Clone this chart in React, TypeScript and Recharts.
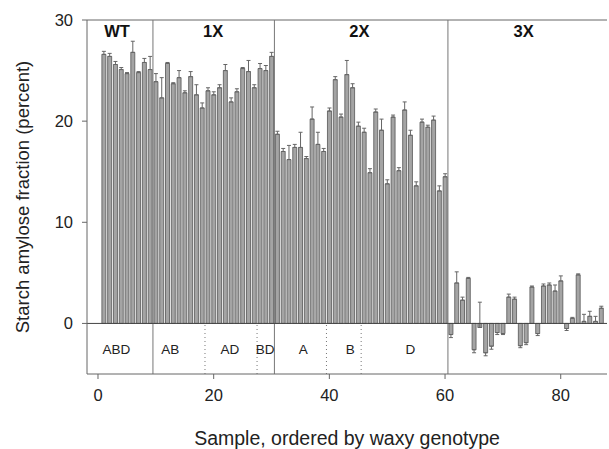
import React from 'react';
import { BarChart, Bar, XAxis, YAxis, ErrorBar, ReferenceLine, ReferenceDot } from 'recharts';

// Amylose fraction (%) per sample, grouped by waxy genotype
const wtValues = [26.6, 26.4, 25.6, 25.1, 24.7, 26.8, 24.8, 25.8, 25.1];
const wtErr = [0.3, 0.3, 0.3, 0.2, 0.1, 1.1, 0.1, 0.4, 1.3];

const x1Values = [23.9, 22.3, 25.7, 23.7, 24.3, 22.8, 24.4, 22.6, 21.3, 23.0, 22.6, 23.3, 25.0, 21.9, 22.9, 25.2, 24.9, 23.3, 25.2, 25.0, 26.4];
const x1Err = [0.8, 2.0, 0.1, 0.1, 0.7, 0.2, 0.5, 1.0, 0.5, 0.3, 0.3, 0.3, 0.6, 0.4, 0.3, 0.1, 1.1, 0.3, 0.5, 0.5, 0.4];

const x2Values = [18.7, 17.0, 16.2, 17.4, 17.4, 16.3, 20.2, 17.7, 17.0, 21.0, 24.1, 20.4, 24.6, 23.3, 19.5, 18.9, 14.9, 20.9, 19.1, 13.8, 20.4, 15.1, 21.1, 18.6, 13.6, 19.9, 19.4, 20.1, 13.1, 14.5];
const x2Err = [0.3, 0.3, 1.4, 0.3, 1.5, 0.2, 1.2, 1.2, 0.3, 0.3, 0.3, 0.3, 1.4, 0.4, 0.4, 0.4, 0.4, 0.3, 1.1, 0.4, 0.2, 0.3, 0.8, 0.5, 0.4, 0.3, 0.2, 0.4, 0.5, 0.3];

const x3Values = [-1.1, 4.0, 2.3, 4.45, -2.6, -0.4, -2.9, -2.25, -0.9, -1.0, 2.6, 2.4, -2.2, -1.9, 3.6, -1.0, 3.7, 3.8, 3.2, 4.2, -0.5, 0.5, 4.8, 0.2, 0.7, 0.2, 1.5];
const x3ErrHigh = [0, 1.1, 0.3, 0.1, 0, 2.5, 0, 0, 0, 0, 0.3, 0.2, 0, 0, 0.1, 0, 0.2, 0.2, 0.6, 0.5, 0, 0.1, 0.1, 0.7, 0.5, 0.5, 0.2];
const x3ErrLow = [0.3, 0, 0, 0, 0.3, 0, 0.3, 0.3, 0.2, 0.1, 0, 0, 0.2, 0.2, 0, 0.2, 0, 0, 0, 0, 0.2, 0, 0, 0, 0, 0, 0];

const groupLabels = ['WT', '1X', '2X', '3X'];
const groupLabelX = [3.3, 19.9, 45.2, 73.6];
const groupDividers = [9.5, 30.5, 60.5];

const genomeLabels = ['ABD', 'AB', 'AD', 'BD', 'A', 'B', 'D'];
const genomeLabelX = [3.2, 12.5, 22.8, 28.9, 35.5, 43.6, 54];
const genomeDividers = [18.5, 27.5, 39.5, 45.5];

const xTicks = [0, 20, 40, 60, 80];
const yTicks = [0, 10, 20, 30];

const values = [...wtValues, ...x1Values, ...x2Values, ...x3Values];
const errHigh = [...wtErr, ...x1Err, ...x2Err, ...x3ErrHigh];
const errLow = [
  ...wtValues.map(() => 0),
  ...x1Values.map(() => 0),
  ...x2Values.map(() => 0),
  ...x3ErrLow,
];

const data = values.map((v, i) => ({
  sample: i + 1,
  amylose: v,
  err: [errLow[i], errHigh[i]],
}));

const FONT = '"Liberation Sans", Arial, Helvetica, sans-serif';
const AXIS = '#666';
const TEXT = '#222';

export default function App() {
  return (
    <div
      style={{
        position: 'absolute',
        left: 0,
        top: 0,
        width: 609,
        height: 449,
        overflow: 'hidden',
        background: '#fff',
        fontFamily: FONT,
      }}
    >
      <BarChart
        width={609}
        height={449}
        data={data}
        margin={{ top: 20, right: 2, bottom: 0, left: 0 }}
      >
        <XAxis
          dataKey="sample"
          type="number"
          domain={[-1.9, 88]}
          ticks={xTicks}
          interval={0}
          height={75}
          tickSize={5}
          tickMargin={10}
          stroke={AXIS}
          tick={{ fill: TEXT, fontSize: 16.5 }}
          allowDataOverflow
          label={{
            value: 'Sample, ordered by waxy genotype',
            position: 'insideBottom',
            offset: 4,
            fill: TEXT,
            fontSize: 19.5,
          }}
        />
        <YAxis
          type="number"
          domain={[-5, 30]}
          ticks={yTicks}
          interval={0}
          width={87}
          tickSize={5}
          tickMargin={9}
          stroke={AXIS}
          tick={{ fill: TEXT, fontSize: 16.5 }}
          allowDataOverflow
          label={{
            value: 'Starch amylose fraction (percent)',
            angle: -90,
            position: 'center',
            dx: -21,
            fill: TEXT,
            fontSize: 18.5,
          }}
        />
        <ReferenceLine y={30} stroke={AXIS} strokeWidth={1} />
        {groupDividers.map((x) => (
          <ReferenceLine key={'g' + x} x={x} stroke="#777" strokeWidth={1} />
        ))}
        {genomeDividers.map((x) => (
          <ReferenceLine
            key={'d' + x}
            segment={[{ x, y: -5 }, { x, y: 0 }]}
            stroke="#777"
            strokeDasharray="1 3"
            strokeWidth={1}
          />
        ))}
        <Bar
          dataKey="amylose"
          barSize={4}
          fill="#a4a4a4"
          stroke="#555"
          strokeWidth={0.8}
          isAnimationActive={false}
        >
          <ErrorBar dataKey="err" width={2} stroke="#666" strokeWidth={1} direction="y" />
        </Bar>
        <ReferenceLine y={0} stroke="#444" strokeWidth={1} />
        {groupLabels.map((t, i) => (
          <ReferenceDot
            key={t}
            x={groupLabelX[i]}
            y={28.9}
            r={0}
            fill="none"
            stroke="none"
            label={{ value: t, position: 'center', fontSize: 16.5, fontWeight: 'bold', fill: '#111' }}
          />
        ))}
        {genomeLabels.map((t, i) => (
          <ReferenceDot
            key={t}
            x={genomeLabelX[i]}
            y={-2.55}
            r={0}
            fill="none"
            stroke="none"
            label={{ value: t, position: 'center', fontSize: 13.5, fill: TEXT }}
          />
        ))}
      </BarChart>
    </div>
  );
}
